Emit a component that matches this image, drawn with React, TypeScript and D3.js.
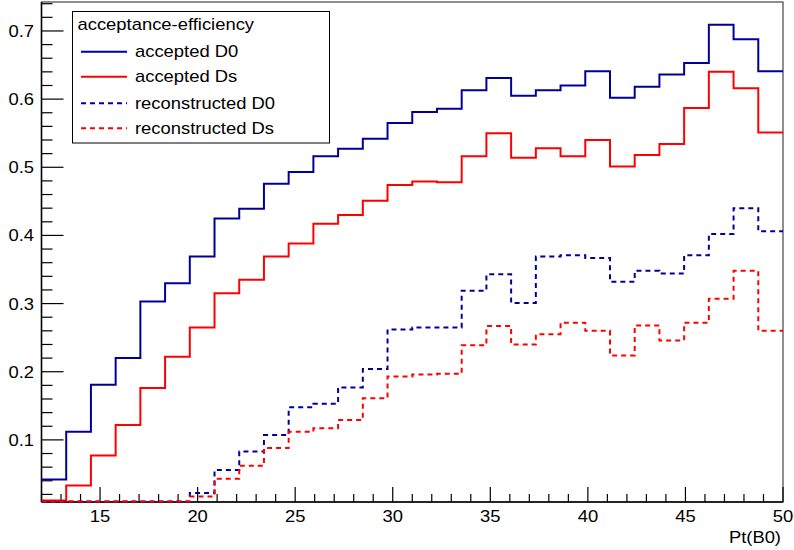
import React from "react";
import * as d3 from "d3";

const xMin = 12;
const xMax = 50;
const nBins = 30;

const acceptedD0 = [0.042, 0.112, 0.181, 0.220, 0.303, 0.330, 0.369, 0.425, 0.439, 0.476, 0.493, 0.516, 0.527, 0.542, 0.565, 0.581, 0.586, 0.613, 0.631, 0.605, 0.613, 0.620, 0.641, 0.602, 0.618, 0.636, 0.653, 0.709, 0.688, 0.641];
const acceptedDs = [0.011, 0.033, 0.077, 0.122, 0.176, 0.222, 0.265, 0.315, 0.335, 0.369, 0.388, 0.417, 0.430, 0.451, 0.474, 0.479, 0.478, 0.516, 0.550, 0.514, 0.528, 0.516, 0.540, 0.501, 0.518, 0.534, 0.587, 0.640, 0.616, 0.551];
const recoD0 = [0, 0, 0, 0, 0, 0, 0.022, 0.056, 0.083, 0.107, 0.148, 0.153, 0.177, 0.204, 0.262, 0.265, 0.265, 0.319, 0.343, 0.301, 0.369, 0.371, 0.367, 0.332, 0.348, 0.344, 0.371, 0.402, 0.440, 0.406];
const recoDs = [0, 0, 0, 0, 0, 0, 0.017, 0.043, 0.062, 0.088, 0.112, 0.117, 0.129, 0.161, 0.193, 0.196, 0.197, 0.239, 0.267, 0.240, 0.255, 0.272, 0.260, 0.224, 0.268, 0.246, 0.272, 0.307, 0.348, 0.260];

const seriesNames = ["accepted D0", "accepted Ds", "reconstructed D0", "reconstructed Ds"];
const legendTitle = "acceptance-efficiency";
const xTitle = "Pt(B0)";
const yTickValues = [0.1, 0.2, 0.3, 0.4, 0.5, 0.6, 0.7];
const xTickValues = [15, 20, 25, 30, 35, 40, 45, 50];

const BLUE = "#000099";
const RED = "#ff0000";
const FONT = "'Liberation Sans', Arial, Helvetica, sans-serif";
const SX = 1.15;

function T(props: { x: number; y: number; size: number; anchor?: "start" | "middle" | "end"; children: React.ReactNode }) {
  return (
    <text
      transform={`translate(${props.x},${props.y}) scale(${SX},1)`}
      fontSize={props.size}
      textAnchor={props.anchor || "start"}
      fill="#000"
    >
      {props.children}
    </text>
  );
}

export default function App() {
  const W = 794, H = 550;
  const left = 41.5, right = 783, top = 2, bottom = 502;
  const x = d3.scaleLinear().domain([xMin, xMax]).range([left, right]);
  const y = d3.scaleLinear().domain([0.0096, 0.7425]).range([bottom - 0.5, top]).clamp(true);
  const bw = (xMax - xMin) / nBins;

  const series = [
    { data: acceptedD0, color: BLUE, dash: undefined as string | undefined },
    { data: acceptedDs, color: RED, dash: undefined },
    { data: recoD0, color: BLUE, dash: "5,4" },
    { data: recoDs, color: RED, dash: "5,4" },
  ];

  const line = d3.line<[number, number]>().x(d => x(d[0])).y(d => y(d[1])).curve(d3.curveStepAfter);
  const makePath = (vals: number[]) => {
    const pts: [number, number][] = vals.map((v, i) => [xMin + i * bw, v]);
    pts.push([xMax, vals[vals.length - 1]]);
    return line(pts) || "";
  };

  const yMinor = d3.range(0.02, 0.741, 0.02).filter(v => Math.abs(Math.round(v * 10) - v * 10) > 1e-6);
  const xMinor = d3.range(12, 51, 1).filter(v => v % 5 !== 0);

  return (
    <svg width={W} height={H} style={{ position: "absolute", left: 0, top: 0, background: "#fff" }} fontFamily={FONT}>
      <rect x={0} y={0} width={W} height={H} fill="#fff" />
      <defs>
        <clipPath id="plotclip">
          <rect x={left} y={top} width={right - left} height={bottom - top + 1.5} />
        </clipPath>
      </defs>
      {/* frame */}
      <rect x={left} y={top} width={right - left} height={bottom - top} fill="none" stroke="#444" strokeWidth={1.2} />
      {/* axes */}
      <line x1={left} x2={left} y1={top} y2={bottom} stroke="#000" strokeWidth={1.5} />
      <line x1={left} x2={right} y1={bottom} y2={bottom} stroke="#000" strokeWidth={1.5} />
      {yTickValues.map(v => (
        <g key={"yt" + v}>
          <line x1={left} x2={left + 22} y1={y(v)} y2={y(v)} stroke="#000" strokeWidth={1.2} />
          <T x={34} y={y(v) + 6} size={16} anchor="end">{v.toFixed(1)}</T>
        </g>
      ))}
      {yMinor.map(v => (
        <line key={"ym" + v} x1={left} x2={left + 11} y1={y(v)} y2={y(v)} stroke="#000" strokeWidth={1.2} />
      ))}
      {xTickValues.map(v => (
        <g key={"xt" + v}>
          <line x1={x(v)} x2={x(v)} y1={bottom} y2={bottom - 15} stroke="#000" strokeWidth={1.2} />
          <T x={x(v)} y={522} size={16} anchor="middle">{v}</T>
        </g>
      ))}
      {xMinor.map(v => (
        <line key={"xm" + v} x1={x(v)} x2={x(v)} y1={bottom} y2={bottom - 8} stroke="#000" strokeWidth={1.2} />
      ))}
      <T x={781} y={543} size={16} anchor="end">{xTitle}</T>
      {/* histograms */}
      <g clipPath="url(#plotclip)">
        {series.map((s, i) => (
          <path key={i} d={makePath(s.data)} fill="none" stroke={s.color} strokeWidth={2} strokeDasharray={s.dash} />
        ))}
      </g>
      {/* legend */}
      <rect x={72.5} y={11.5} width={257} height={131.5} fill="#fff" stroke="#000" strokeWidth={1} />
      <T x={77.5} y={30} size={16}>{legendTitle}</T>
      {seriesNames.map((name, i) => {
        const cy = [51.7, 76.7, 103.3, 128.3][i];
        const s = series[i];
        return (
          <g key={name}>
            <line x1={81} x2={127} y1={cy} y2={cy} stroke={s.color} strokeWidth={2} strokeDasharray={s.dash} />
            <T x={135} y={cy + 5.5} size={16}>{name}</T>
          </g>
        );
      })}
    </svg>
  );
}
